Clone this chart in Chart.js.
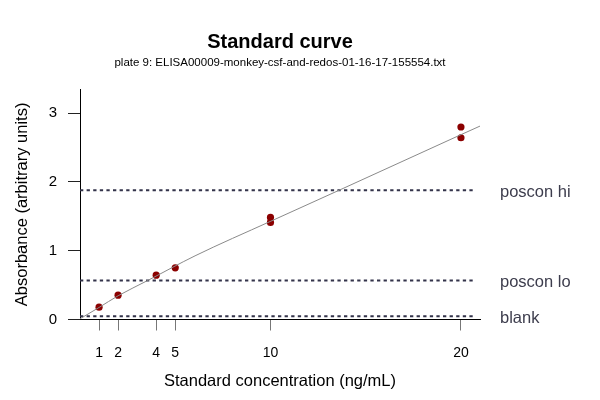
<!DOCTYPE html>
<html>
<head>
<meta charset="utf-8">
<script src="https://cdn.jsdelivr.net/npm/chart.js@4.4.1/dist/chart.umd.min.js"></script>
<style>
  html, body { margin: 0; padding: 0; background: #fff; }
  #wrap { width: 600px; height: 400px; }
</style>
</head>
<body>
<div id="wrap"><canvas id="c" width="600" height="400"></canvas></div>
<script>
// ---- data ----
const titleText = 'Standard curve';
const subtitleText = 'plate 9: ELISA00009-monkey-csf-and-redos-01-16-17-155554.txt';
const xTitle = 'Standard concentration (ng/mL)';
const yTitle = 'Absorbance (arbitrary units)';

const xTickValues = [1, 2, 4, 5, 10, 20];
const yTickValues = [0, 1, 2, 3];

const stdConc = [1, 2, 4, 5, 10, 10, 20, 20];
const stdAbs  = [0.179, 0.354, 0.645, 0.751, 1.485, 1.412, 2.80, 2.643];

const fitConc = [0, 1, 2, 3.56, 6.04, 9.98, 13.66, 20, 21];
const fitAbs  = [0.01, 0.175, 0.345, 0.568, 0.926, 1.425, 1.887, 2.688, 2.813];

const refNames = ['poscon hi', 'poscon lo', 'blank'];
const refAbs   = [1.878, 0.568, 0.048];
const refRange = [0, 20.75];

const xRange = [0, 21.0];
const yRange = [0, 3.348];

// ---- chart ----
const FONT = "'Liberation Sans', Arial, Helvetica, sans-serif";

const refDatasets = refAbs.map((v, i) => ({
  label: refNames[i],
  data: refRange.map(x => ({ x: x, y: v })),
  showLine: true,
  borderColor: '#33334a',
  borderWidth: 2,
  borderDash: [3.3, 3.3],
  pointRadius: 0,
  fill: false
}));

const textPlugin = {
  id: 'texts',
  afterDraw(chart) {
    const ctx = chart.ctx;
    const ca = chart.chartArea;
    const ys = chart.scales.y;
    const cx = (ca.left + ca.right) / 2;
    ctx.save();
    ctx.fillStyle = '#000';
    ctx.textAlign = 'center';
    ctx.textBaseline = 'alphabetic';
    ctx.font = 'bold 20px ' + FONT;
    ctx.fillText(titleText, cx, 48);
    ctx.font = '11.5px ' + FONT;
    ctx.fillText(subtitleText, cx, 66);
    ctx.font = '16.5px ' + FONT;
    ctx.textBaseline = 'middle';
    ctx.fillText(xTitle, cx, 381);
    ctx.save();
    ctx.translate(22, (ca.top + ca.bottom) / 2);
    ctx.rotate(-Math.PI / 2);
    ctx.fillText(yTitle, 0, 0);
    ctx.restore();
    ctx.textAlign = 'left';
    ctx.fillStyle = '#3d3d4d';
    refNames.forEach((n, i) => {
      ctx.fillText(n, 500, ys.getPixelForValue(refAbs[i]) + 2);
    });
    ctx.restore();
  }
};

new Chart(document.getElementById('c'), {
  type: 'scatter',
  data: {
    datasets: [
      {
        label: 'fit',
        data: fitConc.map((x, i) => ({ x: x, y: fitAbs[i] })),
        showLine: true,
        borderColor: '#8a8a8a',
        borderWidth: 1,
        pointRadius: 0,
        cubicInterpolationMode: 'monotone',
        fill: false
      },
      ...refDatasets,
      {
        label: 'standards',
        data: stdConc.map((x, i) => ({ x: x, y: stdAbs[i] })),
        showLine: false,
        backgroundColor: '#8b0000',
        borderColor: '#8b0000',
        borderWidth: 0,
        pointRadius: 3.6
      }
    ]
  },
  options: {
    responsive: false,
    devicePixelRatio: 1,
    animation: false,
    layout: { padding: { top: 89.3, right: 120, bottom: 0, left: 0 } },
    plugins: {
      legend: { display: false },
      title: { display: false },
      tooltip: { enabled: false }
    },
    scales: {
      x: {
        type: 'linear',
        min: xRange[0],
        max: xRange[1],
        afterBuildTicks: s => { s.ticks = xTickValues.map(v => ({ value: v })); },
        afterFit: s => { s.height = 80.5; },
        grid: { drawOnChartArea: false, drawTicks: true, tickLength: 11, color: '#777', lineWidth: 1 },
        border: { display: true, color: '#000', width: 1 },
        ticks: { font: { family: FONT, size: 14 }, color: '#000', padding: 14, maxRotation: 0, autoSkip: false }
      },
      y: {
        type: 'linear',
        min: yRange[0],
        max: yRange[1],
        afterBuildTicks: s => { s.ticks = yTickValues.map(v => ({ value: v })); },
        afterFit: s => { s.width = 80; },
        grid: { drawOnChartArea: false, drawTicks: true, tickLength: 12, color: '#222', lineWidth: 1 },
        border: { display: true, color: '#000', width: 1 },
        ticks: { font: { family: FONT, size: 15 }, color: '#000', padding: 11, autoSkip: false }
      }
    }
  },
  plugins: [textPlugin]
});
</script>
</body>
</html>
